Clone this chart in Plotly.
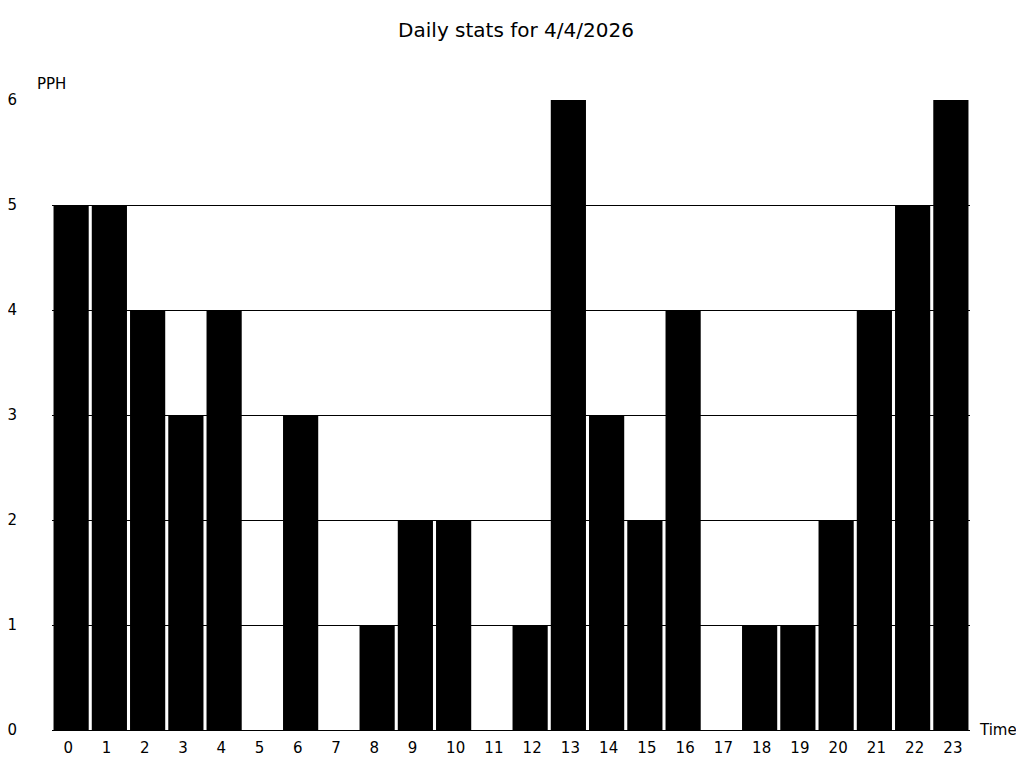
import plotly.graph_objects as go

hours = list(range(24))
pph = [5, 5, 4, 3, 4, 0, 3, 0, 1, 2, 2, 0, 1, 6, 3, 2, 4, 0, 1, 1, 2, 4, 5, 6]
title = "Daily stats for 4/4/2026"
# labels sit left-aligned under each bar, so pad single digits
hour_labels = [str(h) if h >= 10 else str(h) + "\u2007" for h in hours]

fig = go.Figure(go.Bar(x=hours, y=pph, marker=dict(color="black", line=dict(width=0))))

# page body adds an 8px margin, so the figure is 1016x760
fig.update_layout(
    width=1016, height=760,
    paper_bgcolor="white", plot_bgcolor="white",
    font=dict(family="DejaVu Sans", size=15, color="black"),
    title=dict(text=title, x=0.5, xanchor="center", y=0.971, yanchor="middle",
               font=dict(size=20)),
    margin=dict(l=44, r=54, t=92, b=38, autoexpand=False),
    bargap=0.08,
    showlegend=False,
)
fig.update_xaxes(
    range=[-0.5, 23.5], tickmode="array", tickvals=hours, ticktext=hour_labels,
    showgrid=False, showline=True, linecolor="black", linewidth=1, zeroline=False,
    ticks="", ticklabelstandoff=4, ticklabelshift=2, automargin=False,
)
fig.update_yaxes(
    range=[0, 6], tickmode="array", tickvals=[0, 1, 2, 3, 4, 5, 6],
    showgrid=True, gridcolor="black", gridwidth=1, zeroline=False, showline=False,
    ticks="", ticklabelstandoff=34, automargin=False,
)
fig.add_annotation(text="PPH", xref="paper", yref="paper", x=-0.0185, y=1.0254,
                   xanchor="left", yanchor="middle", showarrow=False, font=dict(size=15))
fig.add_annotation(text="Time", xref="paper", yref="paper", x=1.0073, y=0,
                   xanchor="left", yanchor="middle", showarrow=False, font=dict(size=15))

fig.write_html("out.html")
